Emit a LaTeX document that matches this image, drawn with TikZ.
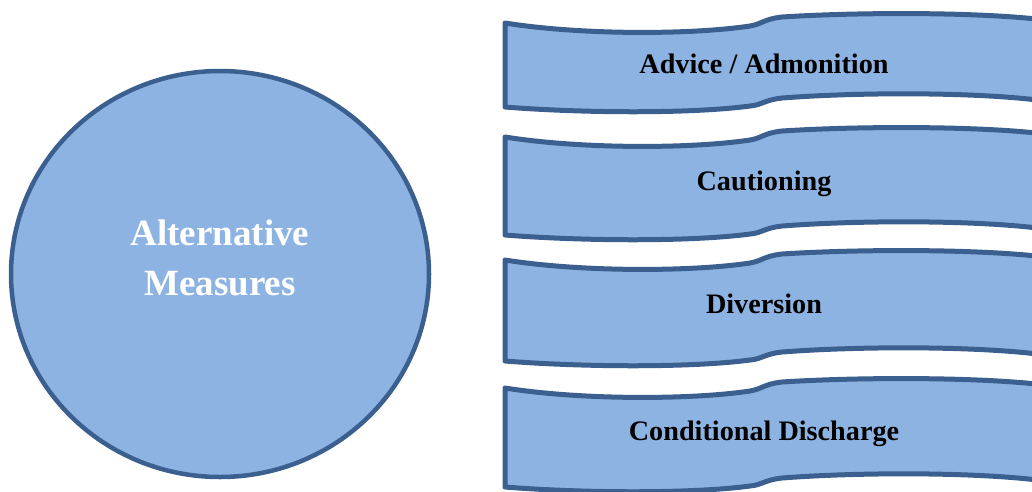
\documentclass[tikz,border=0pt]{standalone}
\usepackage{fontspec}
\setmainfont{Liberation Serif}
\usetikzlibrary{shapes.geometric}
\definecolor{bandfill}{HTML}{8DB3E2}
\definecolor{bandline}{HTML}{3B5F8E}
\tikzset{
  shapestyle/.style={fill=bandfill, draw=bandline, line width=5pt, line join=round},
  bandtext/.style={anchor=base, font=\bfseries\fontsize{28.2}{30}\selectfont, text=black, inner sep=0pt},
  circtext/.style={font=\bfseries\fontsize{37}{50}\selectfont, text=white, align=center, inner sep=0pt}
}
\newcommand\wavebox[3]{%
  \path[shapestyle] (505,#2) .. controls (580,#2+12) and (690,#2+12) .. (750,#2+3)
    .. controls (762,#2+1) and (764,#2-4) .. (782,#2-6)
    .. controls (860,#2-11) and (980,#2-11) .. (1045,#2-3)
    -- (1045,#2+#3-6)
    .. controls (980,#2+#3-15) and (860,#2+#3-15) .. (782,#2+#3-9)
    .. controls (764,#2+#3-7) and (762,#2+#3-2) .. (750,#2+#3-1)
    .. controls (690,#2+#3+7) and (580,#2+#3+6) .. (505,#2+#3) -- cycle;
  \coordinate (#1) at (505,#2);
}
\begin{document}
\begin{tikzpicture}[x=1pt,y=-1pt]
\useasboundingbox (0,0) rectangle (1032,491);
\clip (0,0) rectangle (1032,491);
\node[ellipse, shapestyle, line width=4.5pt, minimum width=418pt, minimum height=406pt, inner sep=0pt] (circ) at (220,274) {};
\node[circtext] (circlabel) at (220,258) {Alternative\\Measures};
\wavebox{b1}{23}{84}
\wavebox{b2}{137}{98}
\wavebox{b3}{260}{101}
\wavebox{b4}{388}{99}
\node[bandtext] (t1) at (764,73) {Advice / Admonition};
\node[bandtext] (t2) at (764,190) {Cautioning};
\node[bandtext] (t3) at (764,313) {Diversion};
\node[bandtext] (t4) at (764,440) {Conditional Discharge};
\end{tikzpicture}
\end{document}
